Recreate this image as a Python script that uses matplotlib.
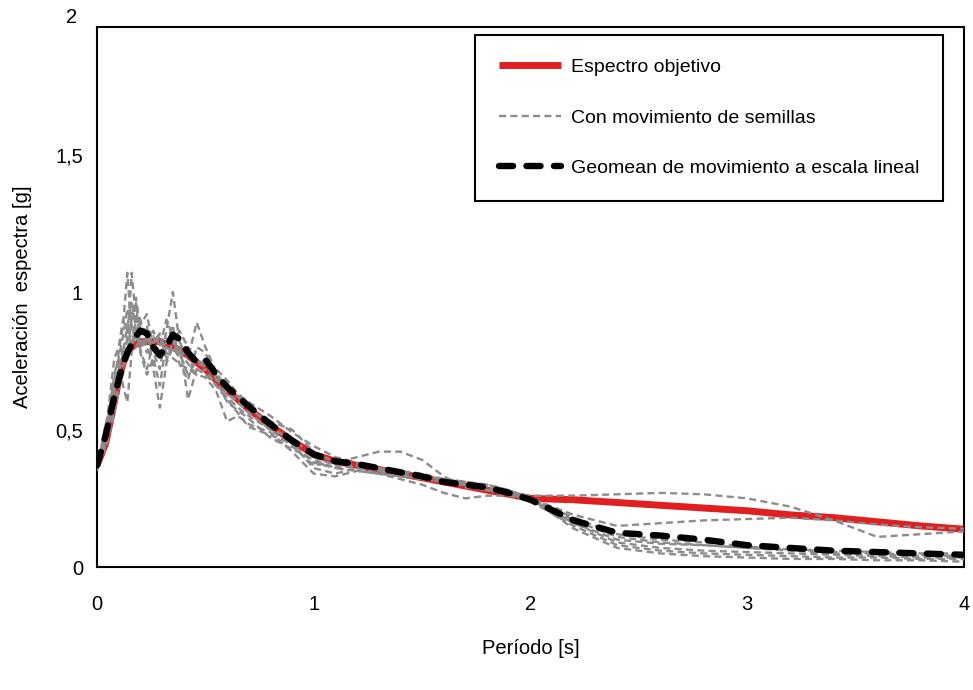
import numpy as np
import matplotlib
matplotlib.use("Agg")
import matplotlib.pyplot as plt

plt.rcParams['font.family'] = ['Liberation Sans', 'DejaVu Sans']

# ==========================
# Data
# ==========================
periods = [0, 0.04, 0.08, 0.1, 0.12, 0.14, 0.16, 0.18, 0.2, 0.23, 0.26, 0.29, 0.32,
           0.35, 0.38, 0.42, 0.46, 0.5, 0.55, 0.6, 0.65, 0.7, 0.8, 0.9, 1.0, 1.1,
           1.2, 1.3, 1.4, 1.5, 1.6, 1.7, 1.8, 1.9, 2.0, 2.2, 2.4, 2.6, 2.8, 3.0,
           3.2, 3.4, 3.6, 3.8, 4.0]

target = [0.37, 0.45, 0.60, 0.68, 0.74, 0.78, 0.80, 0.81, 0.82, 0.82, 0.82, 0.82, 0.81,
          0.80, 0.79, 0.77, 0.745, 0.72, 0.68, 0.645, 0.61, 0.575, 0.515, 0.46, 0.41, 0.385,
          0.37, 0.355, 0.34, 0.325, 0.31, 0.295, 0.28, 0.265, 0.25, 0.245, 0.235, 0.225, 0.215, 0.205,
          0.19, 0.18, 0.165, 0.15, 0.138]

geomean = [0.37, 0.48, 0.62, 0.68, 0.74, 0.78, 0.81, 0.84, 0.86, 0.85, 0.80, 0.77, 0.80,
           0.845, 0.83, 0.78, 0.745, 0.755, 0.70, 0.655, 0.62, 0.585, 0.52, 0.46, 0.41, 0.385,
           0.375, 0.36, 0.345, 0.33, 0.31, 0.30, 0.29, 0.27, 0.245, 0.17, 0.125, 0.115, 0.10, 0.08,
           0.07, 0.06, 0.055, 0.05, 0.045]

seed_1 = [0.36, 0.50, 0.68, 0.78, 0.88, 1.07, 0.85, 0.80, 0.83, 0.78, 0.86, 0.80, 0.75,
          0.82, 0.78, 0.74, 0.70, 0.72, 0.66, 0.62, 0.58, 0.55, 0.50, 0.47, 0.40, 0.37,
          0.36, 0.35, 0.34, 0.33, 0.31, 0.30, 0.29, 0.27, 0.25, 0.17, 0.11, 0.09, 0.08, 0.07,
          0.06, 0.05, 0.045, 0.04, 0.04]
seed_2 = [0.38, 0.44, 0.58, 0.66, 0.70, 0.82, 1.07, 0.90, 0.84, 0.88, 0.72, 0.58, 0.74,
          0.80, 0.76, 0.80, 0.74, 0.73, 0.69, 0.63, 0.60, 0.57, 0.53, 0.50, 0.42, 0.38,
          0.37, 0.36, 0.35, 0.33, 0.32, 0.31, 0.29, 0.27, 0.26, 0.26, 0.265, 0.27, 0.265, 0.25,
          0.22, 0.17, 0.11, 0.12, 0.13]
seed_3 = [0.37, 0.47, 0.62, 0.72, 0.80, 0.75, 0.92, 0.96, 0.80, 0.84, 0.78, 0.72, 0.86,
          1.00, 0.82, 0.61, 0.72, 0.76, 0.70, 0.66, 0.62, 0.58, 0.52, 0.45, 0.38, 0.36,
          0.37, 0.36, 0.34, 0.32, 0.31, 0.30, 0.28, 0.27, 0.25, 0.19, 0.15, 0.16, 0.17, 0.175,
          0.18, 0.17, 0.155, 0.145, 0.14]
seed_4 = [0.36, 0.52, 0.66, 0.74, 0.66, 0.60, 0.78, 0.94, 0.90, 0.82, 0.84, 0.76, 0.80,
          0.78, 0.82, 0.76, 0.89, 0.80, 0.71, 0.64, 0.60, 0.56, 0.50, 0.44, 0.37, 0.38,
          0.40, 0.42, 0.42, 0.39, 0.33, 0.29, 0.28, 0.27, 0.25, 0.16, 0.10, 0.085, 0.08, 0.07,
          0.065, 0.06, 0.055, 0.05, 0.05]
seed_5 = [0.35, 0.46, 0.64, 0.70, 0.78, 0.88, 0.96, 0.86, 0.79, 0.72, 0.82, 0.85, 0.78,
          0.76, 0.74, 0.72, 0.70, 0.69, 0.64, 0.53, 0.55, 0.52, 0.49, 0.42, 0.34, 0.33,
          0.35, 0.34, 0.32, 0.30, 0.27, 0.25, 0.26, 0.26, 0.24, 0.15, 0.08, 0.06, 0.05, 0.045,
          0.04, 0.035, 0.035, 0.03, 0.03]
seed_6 = [0.37, 0.43, 0.56, 0.64, 0.72, 0.84, 0.90, 0.98, 0.86, 0.80, 0.74, 0.80, 0.90,
          0.84, 0.78, 0.70, 0.75, 0.74, 0.72, 0.68, 0.63, 0.60, 0.55, 0.49, 0.44, 0.40,
          0.38, 0.35, 0.33, 0.33, 0.32, 0.31, 0.30, 0.28, 0.25, 0.18, 0.12, 0.10, 0.09, 0.075,
          0.065, 0.055, 0.05, 0.045, 0.04]
seed_7 = [0.38, 0.48, 0.70, 0.76, 0.84, 0.94, 0.88, 0.82, 0.88, 0.92, 0.80, 0.84, 0.76,
          0.80, 0.86, 0.80, 0.72, 0.70, 0.66, 0.61, 0.56, 0.51, 0.48, 0.45, 0.36, 0.34,
          0.36, 0.35, 0.35, 0.34, 0.32, 0.31, 0.30, 0.28, 0.25, 0.14, 0.07, 0.05, 0.04, 0.035,
          0.03, 0.03, 0.025, 0.025, 0.02]
seed_8 = [0.36, 0.49, 0.76, 0.80, 0.90, 0.86, 0.80, 0.92, 0.78, 0.70, 0.76, 0.66, 0.82,
          0.88, 0.74, 0.68, 0.80, 0.78, 0.68, 0.60, 0.57, 0.54, 0.47, 0.43, 0.39, 0.36,
          0.35, 0.34, 0.33, 0.32, 0.31, 0.30, 0.28, 0.265, 0.245, 0.16, 0.09, 0.07, 0.06, 0.055,
          0.05, 0.045, 0.04, 0.035, 0.035]

seeds = [seed_1, seed_2, seed_3, seed_4, seed_5, seed_6, seed_7, seed_8]

x_ticks = [0, 1, 2, 3, 4]
y_ticks = [0, 0.5, 1, 1.5]
y_tick_labels = ["0", "0,5", "1", "1,5"]

# ==========================
# Plot
# ==========================
fig = plt.figure(figsize=(9.73, 6.9), dpi=100)
ax = fig.add_axes([0.0997, 0.178, 0.891, 0.783])

ax.plot(periods, target, color='#e02020', linewidth=5, solid_capstyle='butt',
        label='Espectro objetivo', zorder=2)
for i, s in enumerate(seeds):
    ax.plot(periods, s, color='#8c8c8c', linewidth=1.7, linestyle=(0, (3, 1.8)),
            label='Con movimiento de semillas' if i == 0 else None, zorder=3)
ax.plot(periods, geomean, color='black', linewidth=4.6, linestyle=(0, (2.2, 2.1)),
        dash_capstyle='round', label='Geomean de movimiento a escala lineal', zorder=4)

ax.set_xlim(0, 4)
ax.set_ylim(0, 1.964)
ax.set_xticks(x_ticks)
ax.set_xticklabels([str(t) for t in x_ticks])
ax.set_yticks(y_ticks)
ax.set_yticklabels(y_tick_labels)
ax.text(-0.023, 2, "2", transform=ax.get_yaxis_transform(), ha='right', va='center',
        fontsize=14.5, clip_on=False)
ax.tick_params(axis='both', length=0, labelsize=14.5)
ax.tick_params(axis='x', pad=20)
ax.tick_params(axis='y', pad=10)
for sp in ax.spines.values():
    sp.set_linewidth(1.5)

ax.set_xlabel("Período [s]", fontsize=14.5, labelpad=18)
ax.set_ylabel("Aceleración  espectra [g]", fontsize=14.5, labelpad=17)

leg = ax.legend(loc='upper right', bbox_to_anchor=(0.976, 0.985), fontsize=14,
                handlelength=3.2, handletextpad=0.55, labelspacing=1.7, borderpad=1.2,
                fancybox=False, framealpha=1, edgecolor='black', borderaxespad=0)
leg.get_frame().set_linewidth(1.5)

fig.savefig("out.png", dpi=100)
